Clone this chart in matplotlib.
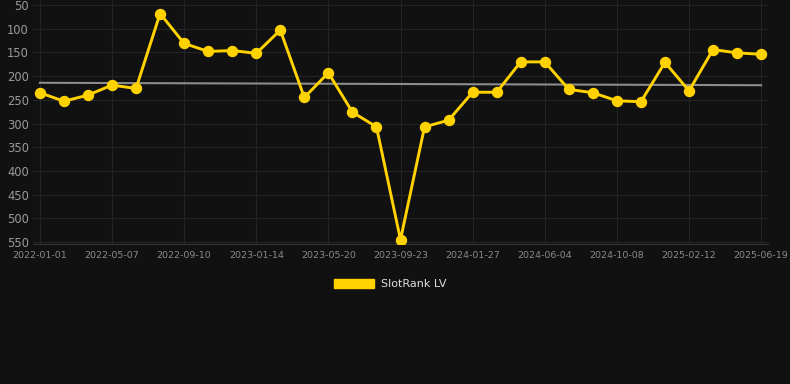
#!/usr/bin/env python3
"""SlotRank LV rank history with linear trend (dark theme)."""

import numpy as np
import pandas as pd
import matplotlib
matplotlib.use("Agg")
import matplotlib.pyplot as plt
import matplotlib.dates as mdates
from matplotlib.patches import Patch

# =============================================================================
# Data
# =============================================================================

START = "2022-01-01"
STEP_DAYS = 42

RANK = [235, 253, 240, 219, 226, 68, 131, 148, 146, 152, 103, 245, 193, 276,
        307, 545, 307, 293, 234, 234, 170, 170, 228, 235, 252, 254, 171, 231,
        144, 151, 154]

TICK_LABELS = ["2022-01-01", "2022-05-07", "2022-09-10", "2023-01-14",
               "2023-05-20", "2023-09-23", "2024-01-27", "2024-06-04",
               "2024-10-08", "2025-02-12", "2025-06-19"]

Y_TICKS = [50, 100, 150, 200, 250, 300, 350, 400, 450, 500, 550]

SERIES_NAME = "SlotRank LV"

# =============================================================================
# Plot
# =============================================================================

BG = "#111111"
GOLD = "#FFD200"
GRID = "#242424"

dates = pd.date_range(START, periods=len(RANK), freq=f"{STEP_DAYS}D")
xnum = mdates.date2num(dates)

slope, intercept = np.polyfit(xnum, RANK, 1)
trend = slope * xnum + intercept

fig = plt.figure(figsize=(7.9, 3.84), dpi=100, facecolor=BG)
ax = fig.add_axes([33 / 790, 1 - 244 / 384, 735 / 790, 244 / 384])
ax.set_facecolor(BG)

ax.plot(dates, trend, color="#8c8c8c", lw=1.5, zorder=2)
ax.plot(dates, RANK, color=GOLD, lw=2.1, marker="o", ms=7.2,
        markerfacecolor=GOLD, markeredgecolor=GOLD, zorder=3)

pad = pd.Timedelta(days=12)
ax.set_xlim(dates[0] - pad, dates[-1] + pad)
ax.set_ylim(554, 39.5)

# one labelled tick every third sample
ax.set_yticks(Y_TICKS)
ax.set_xticks(dates[::3])
ax.set_xticklabels(TICK_LABELS)

ax.tick_params(axis="y", colors="#9a9a9a", labelsize=8.3, length=0, pad=3)
ax.tick_params(axis="x", colors="#8a8a8a", labelsize=6.8, length=0, pad=5)

ax.grid(True, color=GRID, lw=0.8)
for side in ["top", "right", "left"]:
    ax.spines[side].set_visible(False)
ax.spines["bottom"].set_color("#333333")

handle = Patch(facecolor=GOLD, edgecolor=GOLD, label=SERIES_NAME)
fig.legend(handles=[handle], loc="center", bbox_to_anchor=(390 / 790, 1 - 284 / 384),
           frameon=False, labelcolor="#dddddd", fontsize=8,
           handlelength=3.6, handleheight=0.9, handletextpad=0.6)

fig.savefig("out.png", dpi=100, facecolor=BG)
